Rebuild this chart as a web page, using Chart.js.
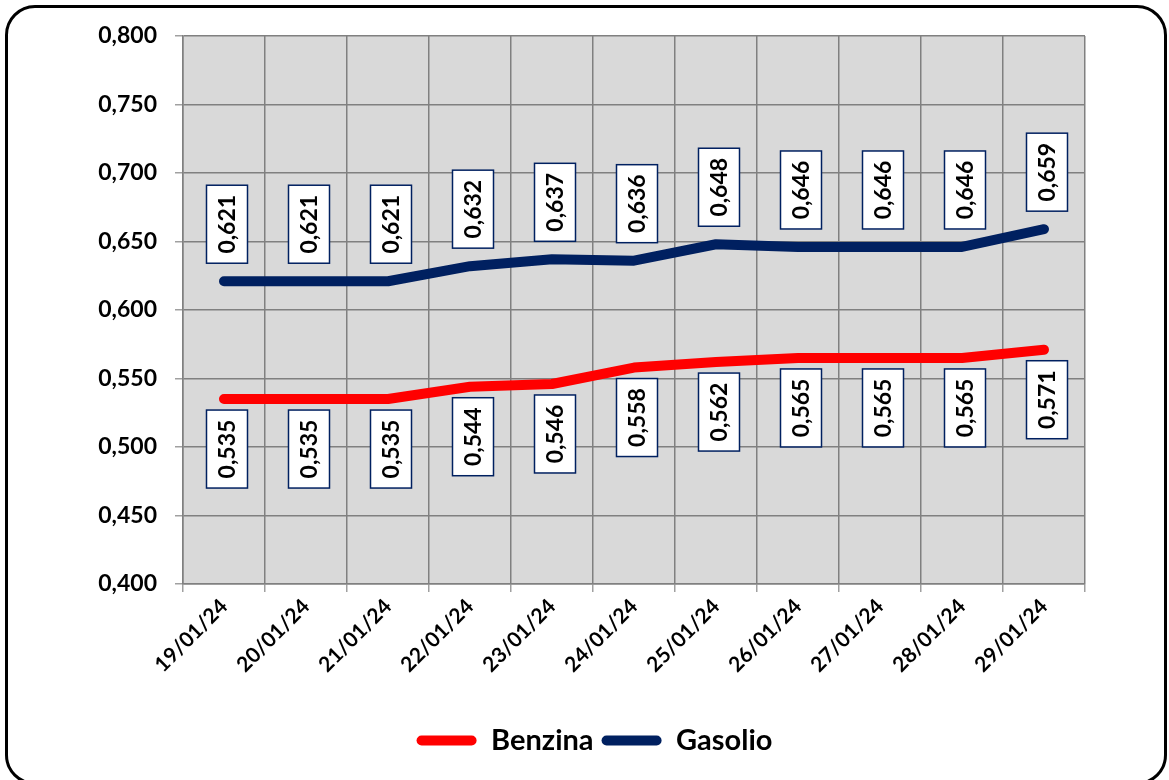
<!DOCTYPE html>
<html>
<head>
<meta charset="utf-8">
<script src="https://cdn.jsdelivr.net/npm/chart.js@4.4.1/dist/chart.umd.min.js"></script>
<style>
  body { margin: 0; background: #fff; }
  #wrap { position: relative; width: 1169px; height: 780px; overflow: hidden; }
  #frame {
    position: absolute; left: 5px; top: 5px; width: 1156px; height: 774px;
    border: 3.5px solid #000; border-radius: 30px; box-sizing: content-box;
    pointer-events: none;
  }
  canvas { position: absolute; left: 0; top: 0; }
</style>
</head>
<body>
<div id="wrap">
  <canvas id="grafico" width="1169" height="780"></canvas>
  <div id="frame"></div>
</div>
<script>
// dati
const giorni = ['19/01/24', '20/01/24', '21/01/24', '22/01/24', '23/01/24', '24/01/24',
                '25/01/24', '26/01/24', '27/01/24', '28/01/24', '29/01/24'];
const benzina = [0.535, 0.535, 0.535, 0.544, 0.546, 0.558, 0.562, 0.565, 0.565, 0.565, 0.571];
const gasolio = [0.621, 0.621, 0.621, 0.632, 0.637, 0.636, 0.648, 0.646, 0.646, 0.646, 0.659];
const yMin = 0.4, yMax = 0.8, yStep = 0.05;

const FONT = 'Lato, "Open Sans", sans-serif';
const fmt = v => Number(v).toFixed(3).replace('.', ',');

// sfondo grigio dell'area del grafico
const sfondo = {
  id: 'sfondo',
  beforeDraw(chart) {
    const a = chart.chartArea, ctx = chart.ctx;
    ctx.save();
    ctx.fillStyle = '#d9d9d9';
    ctx.fillRect(a.left, a.top, a.right - a.left, a.bottom - a.top);
    ctx.restore();
  }
};

// sposta la legenda verso destra, come nell'originale
const spostaLegenda = {
  id: 'spostaLegenda',
  afterLayout(chart) {
    if (chart.legend) {
      chart.legend.left += 52;
      chart.legend.right += 52;
    }
  }
};

// etichette dei valori, ruotate in un riquadro bianco
const etichette = {
  id: 'etichette',
  afterDatasetsDraw(chart) {
    const ctx = chart.ctx;
    const w = 41, h = 78;
    chart.data.datasets.forEach((ds, i) => {
      const meta = chart.getDatasetMeta(i);
      meta.data.forEach((pt, j) => {
        const x = pt.x + 3;
        const top = ds.label === 'Gasolio' ? pt.y - 18 - h : pt.y + 11;
        ctx.save();
        ctx.fillStyle = '#fff';
        ctx.fillRect(x - w / 2, top, w, h);
        ctx.strokeStyle = '#002060';
        ctx.lineWidth = 1.5;
        ctx.strokeRect(x - w / 2, top, w, h);
        ctx.translate(x, top + h / 2);
        ctx.rotate(-Math.PI / 2);
        ctx.fillStyle = '#000';
        ctx.font = 'bold 23px ' + FONT;
        ctx.textAlign = 'center';
        ctx.textBaseline = 'middle';
        ctx.fillText(fmt(ds.data[j]), 0, 1);
        ctx.restore();
      });
    });
  }
};

const ctx = document.getElementById('grafico').getContext('2d');
new Chart(ctx, {
  type: 'line',
  data: {
    labels: giorni,
    datasets: [{
      label: 'Benzina',
      data: benzina,
      borderColor: '#ff0000',
      backgroundColor: '#ff0000',
      borderWidth: 10,
      borderCapStyle: 'round',
      borderJoinStyle: 'round',
      pointRadius: 0,
      tension: 0
    }, {
      label: 'Gasolio',
      data: gasolio,
      borderColor: '#002060',
      backgroundColor: '#002060',
      borderWidth: 10,
      borderCapStyle: 'round',
      borderJoinStyle: 'round',
      pointRadius: 0,
      tension: 0
    }]
  },
  options: {
    responsive: false,
    animation: false,
    layout: { padding: { left: 0, right: 84, top: 36, bottom: 15 } },
    plugins: {
      tooltip: { enabled: false },
      legend: {
        position: 'bottom',
        labels: {
          color: '#000',
          font: { family: FONT, size: 29, weight: 'bold' },
          boxWidth: 60,
          boxHeight: 10,
          padding: 8,
          useBorderRadius: true,
          borderRadius: 5,
          generateLabels(chart) {
            return chart.data.datasets.map((ds, i) => ({
              text: ds.label,
              fillStyle: ds.borderColor,
              strokeStyle: ds.borderColor,
              lineWidth: 0,
              fontColor: '#000',
              borderRadius: 5,
              datasetIndex: i
            }));
          }
        }
      }
    },
    scales: {
      x: {
        offset: true,
        grid: { offset: true, color: '#808080', lineWidth: 1.5, tickLength: 8, tickColor: '#a0a0a0' },
        border: { color: '#808080', width: 1.5 },
        ticks: {
          color: '#000',
          font: { family: FONT, size: 21, weight: 'bold' },
          minRotation: 45,
          maxRotation: 45,
          padding: 2
        },
        afterFit(scale) {
          scale.height = 134;
          scale.paddingLeft = 0;
          scale.paddingRight = 0;
        }
      },
      y: {
        min: yMin,
        max: yMax,
        grid: { color: '#808080', lineWidth: 1.5, tickLength: 8, tickColor: '#a0a0a0' },
        border: { color: '#808080', width: 1.5 },
        ticks: {
          stepSize: yStep,
          color: '#000',
          font: { family: FONT, size: 23, weight: 'bold' },
          padding: 18,
          callback: v => fmt(v)
        },
        afterFit(scale) {
          scale.width = 183;
          scale.paddingTop = 0;
          scale.paddingBottom = 0;
        }
      }
    }
  },
  plugins: [sfondo, spostaLegenda, etichette]
});
</script>
</body>
</html>
